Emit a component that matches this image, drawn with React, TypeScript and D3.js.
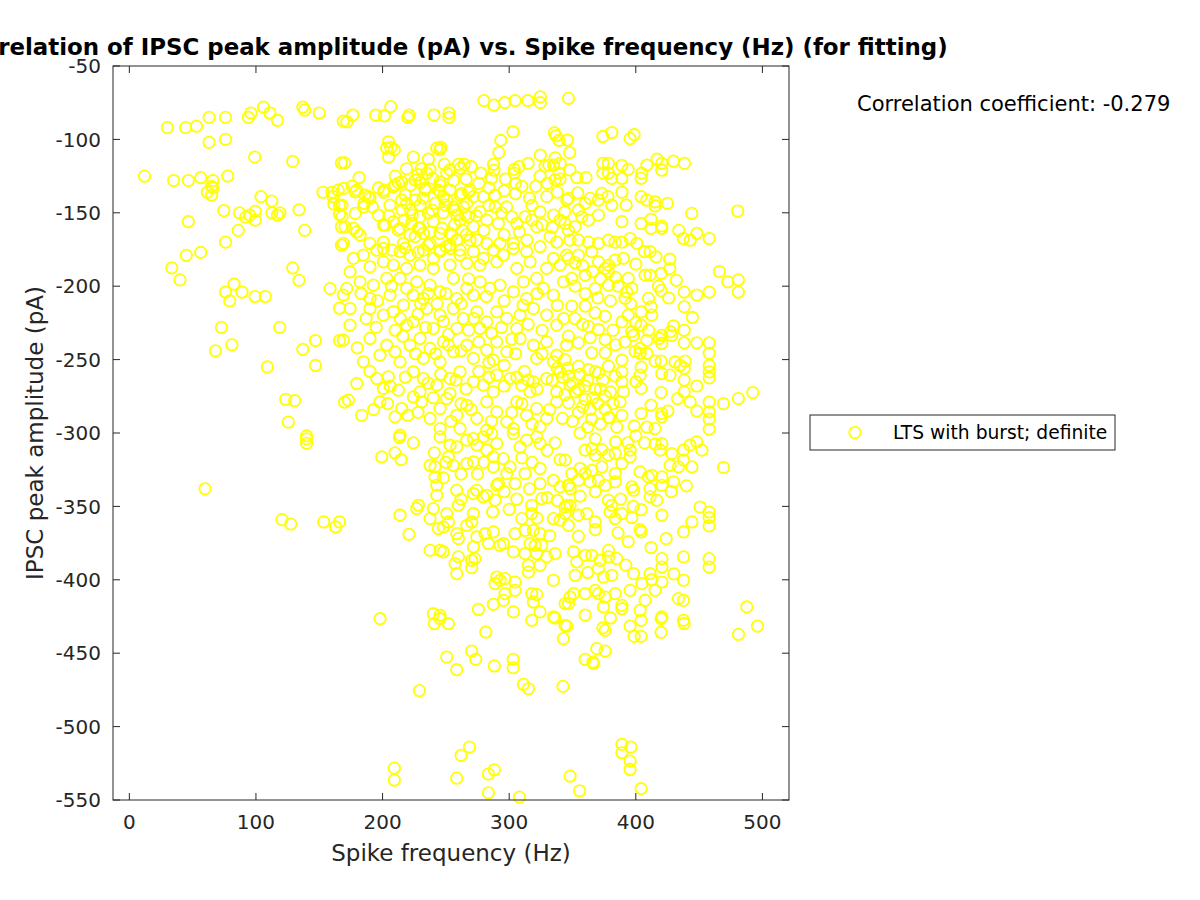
import React from 'react';
import * as d3 from 'd3';

// spike frequency (Hz), IPSC peak amplitude (pA)
const leftSparse: [number, number][] = [
  [30, -92], [44.5, -92], [53, -91], [63, -85], [76, -85], [63, -102], [76, -100], [94, -85], [96, -82],
  [106, -78], [111, -82], [117, -87], [137, -78], [138.5, -80], [150, -82], [169, -87.5], [99, -112],
  [129, -115], [167.5, -116], [12, -125], [35, -128], [46.6, -128], [56.4, -126], [66, -128], [65, -132],
  [66, -133], [61.6, -136], [65, -138], [77.7, -125], [104, -139], [112.5, -142], [134, -148], [153, -136],
  [160, -136], [161, -139], [165, -134.6], [161.5, -144], [166, -145], [74.6, -148.5], [87, -150], [92, -153],
  [95, -151.5], [99.5, -149], [99.5, -155], [112.5, -150], [117, -151.5], [119, -150], [46.6, -156], [86, -162],
  [138.5, -162], [76, -170], [166, -151], [167.5, -159.5], [167.5, -172],
  [45, -179], [56.4, -177], [33.5, -187.5], [40, -195.7], [129, -187.5], [134, -196], [158.5, -201.6],
  [169, -206], [166, -215], [82.7, -198.6], [76, -204], [89, -204], [79.3, -210], [99.3, -207], [107.4, -207],
  [72.7, -228], [118.8, -228], [81, -240], [68, -244], [147, -237], [137, -243], [166, -237], [147, -254],
  [109, -255], [123.5, -277], [130.6, -278], [125.6, -292.5], [140, -302], [170, -279],
  [140, -304], [140, -307], [59.8, -338], [120.6, -359], [127.5, -362], [153.5, -360.6], [163, -364], [166, -360.6],
];

const topBand: [number, number][] = [
  [171.8, -88], [176.5, -83.4], [194.6, -83.4], [201.4, -84], [206.5, -77.7], [220, -85], [221, -83.4],
  [240.7, -83.4], [252.5, -82], [252.5, -85], [280, -73.6], [288, -76.6], [296.5, -75], [304.7, -73.6],
  [314.7, -73.6], [324.6, -71], [324.6, -75], [346.8, -72], [303, -94.8], [293.4, -100.7], [291.8, -109],
  [170, -116], [204.7, -101.6], [206.5, -105.5], [203.3, -106], [209.3, -107], [204.7, -112], [224.3, -112],
  [236.2, -113.4], [242.8, -106], [246, -105.5], [245.4, -107], [248.8, -117], [181.4, -126], [324.6, -110.7],
  [335.7, -95.5], [337, -97.5], [339.4, -100.7], [346, -100.5], [336.3, -112.5], [331.3, -117.5],
  [340.2, -116.3], [315, -116.3], [307.8, -118.6], [304, -120.4], [287.6, -117], [288, -121], [286, -126.5],
  [277.6, -123], [260, -117], [264.4, -117], [270, -118.6], [261.2, -119.7], [297, -127], [304, -123],
  [305, -130], [305, -137], [321, -132], [324.4, -125], [328.3, -118.2], [335, -117.5], [339.4, -123],
  [336.3, -127.5], [340.2, -127], [348, -120.8],
  [347.8, -109], [374, -98], [381, -95.3], [395.5, -99.5], [398.7, -96.8], [374, -116.3], [378.4, -116.3],
  [374, -123], [378.4, -123], [381, -126.5], [389, -117.7], [394, -120.4], [389, -126.5], [404.7, -123],
  [404.2, -126.5], [408.7, -117.5], [416.8, -113.4], [420.5, -116.3], [420.5, -121], [429.7, -114.8],
  [438.4, -116.3], [353.4, -126], [360.7, -126],
  [210, -125], [219, -120], [228, -124], [256, -128], [266, -127], [276, -130], [284, -133], [296, -135],
  [310, -132], [316, -140], [330, -130], [338, -136],
];

const upperBand: [number, number][] = [
  [169.3, -133.4], [176, -131.8], [178.3, -135.7], [179.6, -134.5], [186, -138], [190, -140.2], [185.4, -143.6],
  [196.7, -133], [201, -136], [208.5, -132.3], [212.5, -129.7], [215, -129], [222.3, -131.2], [225.7, -127.7],
  [229.6, -129.5], [233.5, -133.4], [235, -123], [230.6, -120], [237.5, -120.4], [239.6, -126.6], [245.4, -129],
  [244, -134.6], [248, -139], [250.7, -123], [253.3, -120.8],
  [168, -144.8], [168, -152.7], [178.4, -150.4], [177, -160.6], [179.6, -163], [182.2, -165.2], [170.4, -159.5],
  [169, -170.8], [185, -146], [188.8, -139], [196.7, -151.6], [200.6, -158.4], [208.5, -156.2], [213.8, -160.6],
  [219, -143.6], [215, -141.3], [223, -157.3], [228.3, -160.6], [225.7, -166.2], [232.2, -164], [229.6, -152.7],
  [236.2, -150.4], [241.5, -143.6], [245.4, -135.7], [250.7, -141.3], [256, -146], [258.6, -151.6],
  [262.5, -136.8], [267.8, -135.7], [271.7, -139], [266.5, -143.6], [261.2, -155], [267.8, -152.7],
  [271.7, -159.5], [277, -149.3], [282.3, -155], [288.9, -146], [291.5, -157.3], [279.6, -139], [288.9, -138],
  [298, -146], [302, -152.7], [306, -157.3], [312.6, -152.7], [317.9, -155], [321.8, -159.5], [324.4, -149.3],
  [329.7, -139], [335, -151.6], [340.2, -155], [345.5, -141.3], [332.3, -166.2], [337.6, -170], [348, -168.6],
  [314, -168.6], [303.3, -170.8], [292.8, -170.8], [282.3, -170.8], [274.4, -168.6], [258.6, -168.6],
  [253.3, -164], [245.4, -164], [237.5, -170.8], [216.4, -170.8], [200.6, -170], [190, -170.8],
  [346.8, -140.2], [354.2, -136.4], [364, -140.2], [370.5, -141.3], [373.2, -136.8], [378, -139], [381, -144.8],
  [389, -136], [392.4, -144.8], [404.2, -139], [408.7, -141.3], [415.2, -142.5], [415.2, -145.3], [425, -143.6],
  [444.2, -150.4], [480.5, -148.8], [389, -156], [404.2, -157.3], [412, -154.4], [412, -160.6], [420.5, -160.6],
  [420.5, -159], [434, -162], [437.6, -167.5], [443, -168.6], [448.2, -164], [458, -167.5], [344, -149.3],
  [344, -157.3], [354.7, -148], [357.3, -152.7], [346.8, -162], [354.7, -168.6], [362.6, -170], [370.5, -170.8],
  [378.4, -168.6], [383.6, -170], [389, -170], [395.5, -167.5], [400.8, -170.8], [360, -143.6], [362.6, -155],
  [370.5, -151.6], [352, -159.5],
  [201.2, -134.5], [209.9, -131.1], [217.8, -137.9], [225.7, -141.3], [233.6, -134.5], [245.4, -131.1],
  [253.3, -134.5], [261.2, -137.9], [269.1, -134.5], [205.9, -144.8], [215.4, -148.2], [223.3, -151.6],
  [229.6, -144.8], [239.1, -148.2], [249.4, -144.8], [257.3, -148.2], [265.2, -151.6], [202, -158.4],
  [212.3, -161.8], [221.8, -165.2], [229.6, -160.4], [237.5, -163.2], [247, -160.4], [254.9, -165.2],
  [262.8, -161.8], [207.5, -175.4], [217.8, -174.1], [228.1, -176.8], [236, -172], [245.4, -175.4],
  [253.3, -172], [261.2, -175.4], [269.1, -168.6],
  [192, -146], [205, -152], [217, -155], [222, -148], [232, -140], [240, -156], [248, -150], [257, -158],
  [264, -146], [274, -152], [284, -145], [294, -150], [296, -165], [308, -163], [318, -145], [326, -158],
  [334, -160], [280, -162], [266, -165], [250, -173],
];

const coreCluster: [number, number][] = [
  [176.9, -181.1], [184.8, -178.8], [195.4, -175.4], [200.6, -174.3], [213.8, -176.5], [221.7, -178.8],
  [232.2, -175.4], [240.1, -181.1], [245.4, -176.5], [253.3, -174.3], [261.2, -178.8], [271.7, -176.5],
  [279.6, -181.1], [287.5, -175.4], [295.4, -178.8], [303.3, -174.3], [313.8, -176.5], [324.4, -173.1],
  [334.9, -181.1], [345.4, -178.8], [174.3, -190.2], [190.1, -186.8], [200.6, -183.4], [208.5, -185.6],
  [219, -187.9], [229.6, -185.6], [240.1, -187.9], [253.3, -185.6], [266.5, -184.5], [277, -185.6],
  [290.2, -183.4], [306, -187.9], [316.5, -183.4], [329.6, -187.9], [340.2, -185.6],
  [171.7, -201.5], [182.2, -197], [192.7, -199.3], [203.3, -194.7], [213.8, -194.7], [219, -201.5],
  [227, -197], [237.5, -199.3], [245.4, -203.8], [255.9, -194.7], [266.5, -201.5], [277, -197],
  [284.9, -201.5], [292.8, -199.3], [303.3, -203.8], [311.2, -197], [321.7, -194.7], [327, -201.5],
  [334.9, -206.1], [342.8, -197], [190.1, -208.4], [205.9, -206.1], [232.2, -208.4], [258.6, -208.4],
  [271.7, -206.1], [313.8, -208.4],
  [174.3, -215.2], [190.1, -215.2], [200.6, -219.7], [208.5, -217.4], [216.4, -212.9], [224.3, -224.3],
  [234.9, -215.2], [245.4, -219.7], [255.9, -215.2], [263.8, -222], [274.4, -217.4], [282.3, -224.3],
  [290.2, -217.4], [298.1, -222], [308.6, -219.7], [319.1, -215.2], [329.6, -219.7], [337.5, -226.5],
  [174.3, -226.5], [219, -226.5], [240.1, -228.8], [258.6, -228.8], [277, -228.8], [306, -228.8],
  [169, -236.8], [190.1, -235.6], [203.3, -240.2], [209.8, -244.7], [221.7, -240.2], [229.6, -235.6],
  [237.5, -242.4], [248, -237.9], [255.9, -244.7], [266.5, -240.2], [282.3, -243.6], [290.2, -237.9],
  [298.1, -244.7], [308.6, -235.6], [319.1, -240.2], [329.6, -237.9], [337.5, -247], [345.4, -240.2],
  [213.8, -251.5], [232.2, -249.2], [245.4, -251.5], [271.7, -249.2], [287.5, -250.4], [321.7, -249.2],
  [334.9, -251.5],
  [184.8, -251.5], [195.4, -262.9], [204.6, -261.7], [200.6, -269.7], [212.5, -270.8], [224.3, -258.3],
  [232.2, -262.9], [242.8, -267.4], [253.3, -262.9], [261.2, -258.3], [271.7, -265.2], [279.6, -267.4],
  [290.2, -260.6], [300.7, -262.9], [309.9, -267.4], [319.1, -265.2], [329.6, -262.9], [340.2, -258.3],
  [348.1, -267.4], [179.6, -266.3], [229.6, -272], [253.3, -273.1], [287.5, -272], [316.5, -272],
  [337.5, -272],
  [173, -277.6], [183.5, -287.9], [198, -278.8], [209.8, -289], [215.1, -283.3], [224.3, -275.4],
  [230.9, -278.8], [237.5, -290.1], [245.4, -283.3], [250.7, -276.5], [258.6, -287.9], [266.5, -281.1],
  [274.4, -290.1], [282.3, -278.8], [290.2, -285.6], [298.1, -292.4], [306, -278.8], [313.8, -287.9],
  [321.7, -283.3], [329.6, -290.1], [337.5, -278.8], [245.4, -297], [261.2, -297], [282.3, -298.1],
  [303.3, -297], [324.4, -295.8], [213.8, -301.5],
  [183, -205], [196, -210], [207, -200], [224, -206], [230, -212], [236, -205], [243, -212], [250, -205],
  [262, -212], [268, -195], [282, -207], [296, -210], [311, -213], [322, -205], [338, -213],
  [187, -222], [195, -228], [210, -230], [214, -222], [228, -219], [234, -228], [248, -224], [252, -233],
  [268, -230], [272, -222], [286, -232], [294, -228], [302, -236], [315, -226], [326, -230], [343, -222],
  [180, -242], [198, -247], [216, -234], [226, -246], [242, -246], [252, -240], [262, -244], [276, -238],
  [284, -252], [296, -254], [305, -246], [312, -258], [326, -246], [338, -256], [344, -250],
  [190, -258], [206, -268], [218, -262], [236, -266], [246, -260], [258, -264], [266, -270], [276, -258],
  [284, -262], [296, -268], [306, -262], [315, -264], [322, -270], [334, -264], [346, -256],
  [193, -284], [204, -280], [220, -288], [228, -286], [240, -276], [254, -292], [262, -280], [270, -284],
  [286, -292], [302, -286], [310, -280], [318, -294], [332, -284], [342, -290],
];

const rightCluster: [number, number][] = [
  [466, -190], [472.7, -197], [481, -195.7], [481, -204], [438.2, -204], [448.2, -206], [458, -204],
  [438.2, -214], [444.7, -221.3], [426.8, -181.6], [426.8, -188], [420, -191.3], [420, -203], [429.7, -227],
  [427.4, -231], [420.5, -233.4], [418.6, -235.6], [420.5, -239], [438.2, -230], [428.4, -233.4],
  [438.2, -238.6], [448.2, -238.6], [458, -238.6], [458, -245.7], [408.7, -237], [415.2, -251], [420, -251],
  [431, -251.6], [435, -253.9], [439, -251], [438.2, -256], [438.2, -264], [433, -276.6], [438.2, -272],
  [443, -278.8], [448.2, -285], [458, -253.9], [458, -258.4], [458, -262.5], [448.2, -268], [420, -272.4],
  [420.5, -259.5], [427, -260.6], [458, -279], [469.2, -280], [481, -276.5], [492.4, -272.4], [458, -285.6],
  [458, -290.6], [458, -297.4], [412, -281], [404.2, -286.7], [420.5, -286.7], [420.5, -289], [425.3, -285],
  [415.2, -297], [408.7, -296], [398.7, -295.2], [389, -288], [379.2, -289.5], [403.4, -242.4],
  [403.4, -245.8], [399.5, -244.3], [408.7, -245.8], [404.2, -255], [403.4, -260.6], [400.2, -265],
  [404.2, -269.6], [389, -250.4], [389, -258.4], [389, -265.2], [390.2, -272], [387.6, -278.8],
  [394, -194.7], [396.8, -201.5], [391.5, -208.3], [392.8, -203.8], [407.4, -192.5], [411.3, -192.5],
  [410, -208.3], [412, -214], [412.6, -219.7], [404.2, -217.5], [404.2, -226.5], [411.3, -176.5],
  [406.8, -176.5], [390.2, -181], [383.6, -182.2], [378.4, -185.6], [375.8, -188], [394, -219.7],
  [389, -224.3], [396.8, -231], [398.1, -233.4], [391.5, -238],
  [346.8, -181], [354.7, -178.8], [365.2, -176.5], [370.5, -183.4], [378.4, -190.2], [349.4, -194.7],
  [360, -192.5], [367.8, -201.6], [378.4, -199.3], [349.4, -213.6], [360, -213.6], [367.8, -218.2],
  [375.8, -220.5], [362.6, -227.3], [370.5, -229.5], [375.8, -236.4], [354.7, -238.6], [346.8, -234],
  [365.2, -245.4], [375.8, -245.4], [354.7, -254.5], [346.8, -261.3], [362.6, -256.8], [370.5, -259],
  [378.4, -254.5], [383.6, -261.3], [354.7, -270.3], [367.8, -270.3], [375.8, -274.8], [346.8, -279.4],
  [360, -277], [375.8, -283.8], [354.7, -286], [365.2, -290.6], [378.4, -289.5],
  [342, -262], [350, -266], [356, -260], [362, -264], [368, -258], [374, -264], [352, -272], [360, -268],
  [366, -276], [372, -270], [380, -272], [344, -274], [358, -282], [364, -284], [370, -280], [382, -280],
  [350, -292], [362, -296], [372, -294], [385, -296],
  [352, -184], [358, -186], [366, -190], [372, -195], [384, -194], [352, -200], [360, -205], [370, -208],
  [380, -210], [386, -200], [352, -222], [358, -226], [382, -230], [384, -240], [364, -235], [396, -212],
  [400, -185], [416, -180], [418, -200], [426, -208], [432, -196], [400, -225], [410, -230],
];

const lowerCluster: [number, number][] = [
  [213.3, -303.1], [224.3, -306.7], [199.3, -316.3], [209.8, -313.5], [214.6, -318.1], [240.9, -313.5],
  [237.5, -322], [241.4, -323.1], [241.4, -329.9], [248, -330.6], [242.8, -335.6], [242.8, -342.4],
  [258.6, -339], [271.7, -341.3], [274.4, -339], [259.9, -349.2], [228.3, -349.2], [227, -351.5],
  [240.1, -351.5], [237.5, -358.3], [250.7, -354.9], [252, -360.6], [244.1, -365.1], [248, -364],
  [213.8, -356], [220.9, -369], [258.6, -368.5], [259.9, -371.9], [270.4, -360.6], [271.7, -354.9],
  [266.5, -362.9], [274.4, -370.8], [271.7, -377.6], [280.9, -368.5], [287.5, -367.4], [283.6, -375.3],
  [292.8, -376.5], [295.4, -375.3], [287, -353.8], [279.6, -343.5], [282.3, -342.4], [288.8, -345.8],
  [290.2, -335.6], [291.5, -334.5], [245.4, -302.6], [253.3, -308.3], [258.6, -309.5], [255.9, -322],
  [252, -316.3], [266.5, -304.9], [271.7, -303.8], [274.4, -308.3], [279.6, -302.6], [286.2, -300.4],
  [290.2, -307.2], [282.3, -311.7], [287.5, -316.3], [266.5, -320.8], [271.7, -319.7], [287.5, -323.1],
  [295.4, -317.4], [298.1, -327.6], [300.7, -323.1], [308.6, -309.5], [303.3, -300.4], [313.8, -304.9],
  [321.7, -302.6], [324.4, -307.2], [336.2, -306.7], [340.2, -318.1], [324.4, -324.2], [312.5, -327.6],
  [304.6, -334.5], [324.4, -334.5], [325.7, -344.7], [334.9, -332.2], [340.2, -336.7], [346.8, -335.6],
  [317.8, -349.2], [317.8, -354.9], [309.9, -358.3], [334.9, -358.3], [340.2, -359.4], [344.1, -350.4],
  [348.1, -349.2], [304.6, -368.5], [312.5, -366.3], [319.1, -366.3], [324.4, -368.5], [316.5, -375.3],
  [320.4, -376.5], [303.3, -381], [312.5, -382.2], [321.7, -382.2], [325.7, -376.5], [336.2, -382.2],
  [329.6, -384.4], [315.2, -390.1], [324.4, -390.1], [315.2, -394.7], [259.9, -384.4], [257.2, -389],
  [258.6, -395.8], [270.4, -386.7], [273, -385.6], [270.4, -391.7], [237.5, -379.9], [245.4, -379.9],
  [248, -381], [290.2, -398.1], [292.8, -400.3], [296.7, -399.2], [288.8, -402.6], [304.6, -401.5],
  [304.6, -407.2], [296.7, -409.4], [295.4, -414], [287.5, -416.7], [303.3, -421.9], [275.7, -420.1],
  [317.8, -409.4], [321.7, -410.1], [319.1, -415.1], [324.4, -421.9], [334.9, -400.3], [334.9, -425.3],
  [344.1, -416.2], [348.1, -411.7], [198, -426.5], [240.1, -423.1], [245.4, -424.2],
  [393.7, -306.7], [406.9, -306.7], [415.3, -307.6], [420.6, -307.2], [419.2, -311.7], [428.5, -314],
  [437.7, -311.7], [442.9, -308.3], [448.2, -306], [452.2, -311.7], [427.1, -322], [433.7, -323.1],
  [444.3, -323.1], [437.7, -318.5], [469.3, -323.5], [360, -311.7], [365.3, -310.6], [373.2, -311.3],
  [367.9, -315.1], [378.4, -315.1], [383.7, -314], [389, -320.8], [395.5, -316.3], [395.5, -311.7],
  [344.2, -318.5], [349.5, -327.6], [356, -324.2], [360, -327.6], [365.3, -325.4], [373.2, -323.1],
  [354.7, -332.2], [364, -333.3], [370.5, -332.2], [375.8, -335.6], [383.7, -327.6], [383.7, -333.3],
  [346.8, -335.6], [348.1, -337.9], [403.4, -326.5], [410, -329.9], [412.7, -328.8], [420.6, -329.9],
  [420.6, -335.6], [429.8, -333.3], [396.9, -336.7], [398.2, -339], [411.3, -337.9], [411.3, -343.5],
  [416.6, -345.8], [378.4, -345.8], [381, -349.2], [379.7, -353.8], [383.7, -358.3], [389, -354.9],
  [396.9, -357.6], [404.2, -352.2], [420.6, -356], [345.5, -349.2], [344.2, -354.9], [346.8, -362.9],
  [354.7, -356], [361.3, -354.9], [367.9, -360.6], [367.9, -365.8], [354.7, -370.4], [403.4, -365.8],
  [404.2, -367.4], [437.7, -367.4], [444.3, -360.6], [450.8, -350.4], [457.9, -353.8], [457.9, -357.6],
  [457.9, -363.3], [350.8, -381], [353.4, -387.8], [360, -383.3], [365.3, -383.3], [371.8, -386.7],
  [378.4, -379.9], [378.4, -384.4], [385, -385.6], [370.5, -392.4], [374.5, -398.1], [381, -396.9],
  [352.1, -396.9], [398.2, -395.8], [404.8, -402.6], [411.3, -395.8], [412.7, -399.9], [420.6, -385.6],
  [420.6, -391.3], [420.6, -401.5], [415.3, -407.2], [407.4, -414], [437.7, -384.4], [437.7, -400.3],
  [457.9, -385.6], [457.9, -391.3], [395.5, -407.2], [383.7, -409.4], [375.8, -411.7], [370.5, -409.4],
  [367.9, -407.2], [360, -409.4], [350.8, -409.4], [346.8, -416.2], [374.5, -418.5], [389, -417.4],
  [389, -419.7], [403.4, -420.8], [433.7, -412.8], [437.7, -414], [487.7, -418.5], [420.6, -425.3],
  [437.7, -427.6],
  [250, -320], [262, -328], [275, -328], [280, -320], [296, -340], [306, -345], [316, -338], [330, -344],
  [262, -345], [300, -352], [322, -358], [332, -370], [338, -346], [310, -317], [318, -320], [330, -312],
  [356, -300], [368, -304], [384, -306], [400, -302], [356, -343], [368, -340], [388, -345], [398, -350],
  [428, -340], [440, -336], [386, -368], [394, -374], [412, -378], [424, -372], [362, -395], [392, -390],
  [430, -396], [360, -424], [380, -426],
];

const bottomTail: [number, number][] = [
  [240.9, -429.9], [245.4, -426.5], [252, -429.9], [281.5, -435.6], [317.8, -427.6], [336.2, -426],
  [344.1, -431], [342.8, -440.1], [250.7, -452.6], [258.6, -461.2], [270.4, -448.5], [273.6, -454.2],
  [288.3, -458.7], [303.1, -454.2], [303.1, -459.9], [311.2, -471.2], [315.2, -474.2], [342.5, -472.6],
  [229.1, -475.5], [268.6, -513.9], [262, -519.6], [209.3, -528.3], [209.3, -536.4], [258.6, -535.1],
  [283.6, -532.3], [288.3, -529.4], [283.6, -545.1], [308.1, -548], [348.1, -533.7],
  [345.5, -431.5], [374, -432.8], [375.8, -434.4], [395.5, -431.5], [404.2, -427.6], [398.7, -438.5],
  [404.2, -438.5], [420, -426.5], [420, -435.8], [438.2, -429.9], [481.1, -437.2], [496.1, -431.5],
  [369.2, -446.9], [375.8, -448.5], [360, -454.2], [366.1, -456], [366.6, -457.1],
  [389, -512.1], [396.1, -513.9], [389, -517.8], [395.5, -523.5], [395.5, -529.2], [355.6, -543.7],
  [404.2, -542.3],
];

const xTicks = [0, 100, 200, 300, 400, 500];
const yTicks = [-550, -500, -450, -400, -350, -300, -250, -200, -150, -100, -50];

const titleText = 'Correlation of IPSC peak amplitude (pA) vs. Spike frequency (Hz) (for fitting)';
const xLabel = 'Spike frequency (Hz)';
const yLabel = 'IPSC peak amplitude (pA)';
const corrText = 'Correlation coefficient: -0.279';
const legendLabel = 'LTS with burst; definite';

const markerColor = '#ffff00';
const axisColor = '#262626';
const font = '"DejaVu Sans", sans-serif';

export default function App() {
  const left = 113, right = 789, top = 66, bottom = 800;
  const x = d3.scaleLinear().domain([-12.9, 521]).range([left, right]);
  const y = d3.scaleLinear().domain([-550, -50]).range([bottom, top]);
  const points = [...leftSparse, ...topBand, ...upperBand, ...coreCluster, ...rightCluster, ...lowerCluster, ...bottomTail];
  const tick = 7;
  const r = 5.7;

  return (
    <svg width={1200} height={900} style={{ position: 'absolute', left: 0, top: 0, background: '#fff' }}
      fontFamily={font}>
      <rect x={0} y={0} width={1200} height={900} fill="#fff" />
      <g>
        {points.map((d, i) => (
          <circle key={i} cx={x(d[0])} cy={y(d[1])} r={r} fill="none" stroke={markerColor} strokeWidth={1.8} />
        ))}
      </g>
      <g stroke={axisColor} strokeWidth={1} fill="none">
        <rect x={left} y={top} width={right - left} height={bottom - top} />
        {xTicks.map(t => (
          <g key={'x' + t}>
            <line x1={x(t)} x2={x(t)} y1={bottom} y2={bottom - tick} />
            <line x1={x(t)} x2={x(t)} y1={top} y2={top + tick} />
          </g>
        ))}
        {yTicks.map(t => (
          <g key={'y' + t}>
            <line x1={left} x2={left + tick} y1={y(t)} y2={y(t)} />
            <line x1={right} x2={right - tick} y1={y(t)} y2={y(t)} />
          </g>
        ))}
      </g>
      <g fill={axisColor} fontSize={20}>
        {xTicks.map(t => (
          <text key={'xl' + t} x={x(t)} y={bottom + 29} textAnchor="middle">{t}</text>
        ))}
        {yTicks.map(t => (
          <text key={'yl' + t} x={left - 12} y={y(t)} dy="0.36em" textAnchor="end">{t}</text>
        ))}
      </g>
      <text x={(left + right) / 2} y={861} textAnchor="middle" fontSize={23} fill={axisColor}>{xLabel}</text>
      <text transform={`translate(43,${(top + bottom) / 2}) rotate(-90)`} textAnchor="middle" fontSize={23}
        fill={axisColor}>{yLabel}</text>
      <text x={(left + right) / 2} y={55} textAnchor="middle" fontSize={22.9} fontWeight="bold" fill="#000">
        {titleText}
      </text>
      <text x={857} y={111} fontSize={21} fill="#000">{corrText}</text>
      <g>
        <rect x={810} y={415} width={305} height={35} fill="#fff" stroke={axisColor} strokeWidth={1} />
        <circle cx={855} cy={432.5} r={r} fill="none" stroke={markerColor} strokeWidth={1.8} />
        <text x={893} y={439} fontSize={18.7} fill="#000">{legendLabel}</text>
      </g>
    </svg>
  );
}
